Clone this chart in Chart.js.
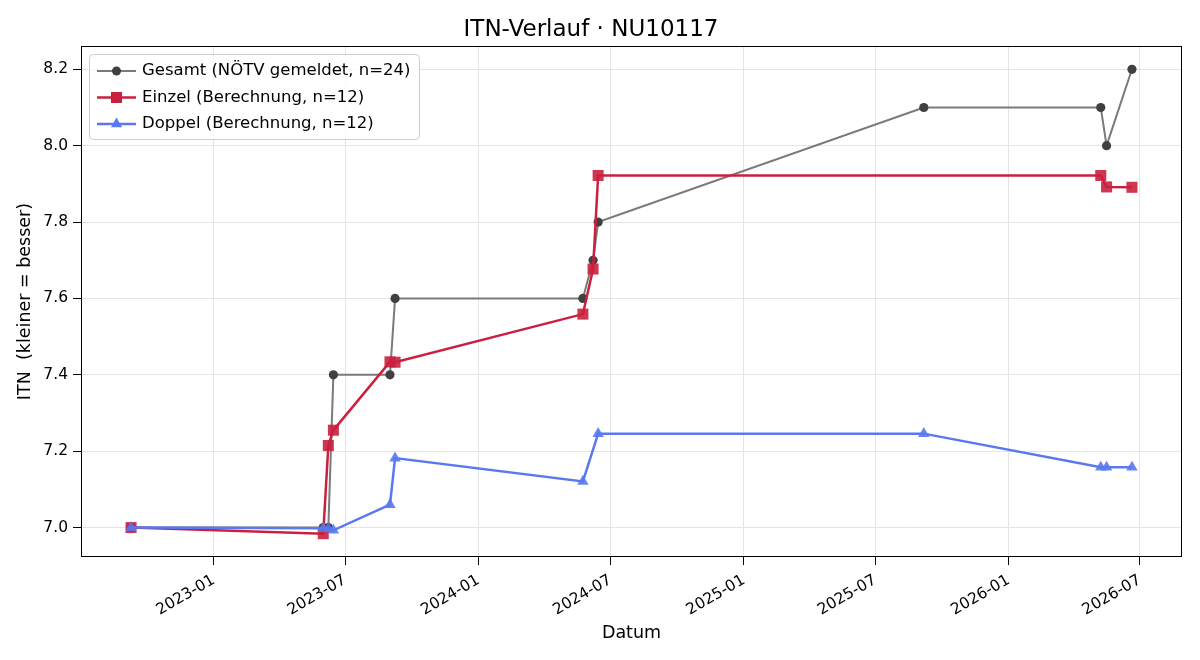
<!DOCTYPE html>
<html>
<head>
<meta charset="utf-8">
<script src="https://cdn.jsdelivr.net/npm/chart.js@4.4.1/dist/chart.umd.min.js"></script>
<style>
  html, body { margin: 0; padding: 0; background: #fff; }
  #wrap { width: 1200px; height: 660px; }
</style>
</head>
<body>
<div id="wrap"><canvas id="itnChart" width="1200" height="660"></canvas></div>
<script>
// Gesamt = ITN as reported by the NÖTV, one point per match date
const gesamtDates = ['2022-09-09', '2023-06-01', '2023-06-08', '2023-06-15', '2023-09-01', '2023-09-08',
  '2024-05-24', '2024-06-07', '2024-06-14', '2025-09-06', '2026-05-08', '2026-05-16', '2026-06-20'];
const gesamtValues = [7.0, 7.0, 7.0, 7.4, 7.4, 7.6, 7.6, 7.7, 7.8, 8.1, 8.1, 8.0, 8.2];

// Einzel (calculated)
const einzelDates = ['2022-09-09', '2023-06-01', '2023-06-08', '2023-06-15', '2023-09-01', '2023-09-08',
  '2024-05-24', '2024-06-07', '2024-06-14', '2026-05-08', '2026-05-16', '2026-06-20'];
const einzelValues = [7.0, 6.984, 7.215, 7.255, 7.434, 7.433, 7.559, 7.677, 7.922, 7.922, 7.892, 7.891];

// Doppel (calculated)
const doppelDates = ['2022-09-09', '2023-06-01', '2023-06-08', '2023-06-15', '2023-09-01', '2023-09-08',
  '2024-05-24', '2024-06-14', '2025-09-06', '2026-05-08', '2026-05-16', '2026-06-20'];
const doppelValues = [7.0, 6.998, 6.997, 6.993, 7.06, 7.182, 7.121, 7.246, 7.246, 7.158, 7.158, 7.158];

const xTickLabels = ['2023-01', '2023-07', '2024-01', '2024-07', '2025-01', '2025-07', '2026-01', '2026-07'];
const yTickValues = [7.0, 7.2, 7.4, 7.6, 7.8, 8.0, 8.2];

const legendLabels = ['Gesamt (NÖTV gemeldet, n=24)', 'Einzel (Berechnung, n=12)', 'Doppel (Berechnung, n=12)'];

function toTime(s) {
  const p = s.split('-').map(Number);
  return Date.UTC(p[0], p[1] - 1, p[2] || 1);
}

function toPoints(dates, values) {
  return dates.map((d, i) => ({ x: toTime(d), y: values[i] }));
}

const GREY_LINE = '#7a7a7a', GREY_DOT = '#404040';
const RED = '#c9203f';
const BLUE = '#5a78ef';

Chart.defaults.font.family = "'DejaVu Sans', 'Liberation Sans', sans-serif";
Chart.defaults.color = '#000';

// draws the box round the plot like matplotlib spines
const frameBox = {
  id: 'frameBox',
  afterDatasetsDraw(chart) {
    const a = chart.chartArea, ctx = chart.ctx;
    ctx.save();
    ctx.strokeStyle = '#000';
    ctx.lineWidth = 1;
    ctx.strokeRect(Math.round(a.left) + 0.5, Math.round(a.top) + 0.5,
      Math.round(a.right - a.left) - 1, Math.round(a.bottom - a.top) - 1);
    ctx.restore();
  }
};

function drawMarker(ctx, style, x, y, color) {
  ctx.fillStyle = color;
  ctx.beginPath();
  if (style === 'circle') {
    ctx.arc(x, y, 4.5, 0, Math.PI * 2);
  } else if (style === 'rect') {
    ctx.rect(x - 5.5, y - 5.5, 11, 11);
  } else {
    ctx.moveTo(x, y - 6.5);
    ctx.lineTo(x + 5.6, y + 3.3);
    ctx.lineTo(x - 5.6, y + 3.3);
    ctx.closePath();
  }
  ctx.fill();
}

// legend inside the plot, upper left
const innerLegend = {
  id: 'innerLegend',
  afterDraw(chart) {
    const ctx = chart.ctx;
    const a = chart.chartArea;
    const x0 = a.left + 8, y0 = a.top + 8, w = 330, h = 85;
    ctx.save();
    ctx.fillStyle = 'rgba(255,255,255,0.85)';
    ctx.strokeStyle = '#cccccc';
    ctx.lineWidth = 1;
    ctx.beginPath();
    ctx.roundRect(x0 + 0.5, y0 + 0.5, w, h, 4);
    ctx.fill();
    ctx.stroke();
    const styles = ['circle', 'rect', 'triangle'];
    const lineCols = [GREY_LINE, RED, BLUE];
    const dotCols = [GREY_DOT, RED, BLUE];
    const widths = [2, 2.5, 2.5];
    ctx.font = "16.5px 'DejaVu Sans', sans-serif";
    ctx.textBaseline = 'middle';
    for (let i = 0; i < 3; i++) {
      const yy = y0 + 17 + i * 26.5;
      ctx.strokeStyle = lineCols[i];
      ctx.lineWidth = widths[i];
      ctx.beginPath();
      ctx.moveTo(x0 + 8, yy);
      ctx.lineTo(x0 + 47, yy);
      ctx.stroke();
      drawMarker(ctx, styles[i], x0 + 27.5, yy, dotCols[i]);
      ctx.fillStyle = '#000';
      ctx.fillText(legendLabels[i], x0 + 53, yy);
    }
    ctx.restore();
  }
};

const ctx = document.getElementById('itnChart').getContext('2d');
const itnChart = new Chart(ctx, {
  type: 'line',
  data: {
    datasets: [{
      label: legendLabels[0],
      data: toPoints(gesamtDates, gesamtValues),
      borderColor: GREY_LINE,
      borderWidth: 2,
      pointStyle: 'circle',
      pointRadius: 4.6,
      pointBackgroundColor: GREY_DOT,
      pointBorderWidth: 0,
      order: 3
    }, {
      label: legendLabels[1],
      data: toPoints(einzelDates, einzelValues),
      borderColor: RED,
      borderWidth: 2.5,
      pointStyle: 'rect',
      pointRadius: 7.8,
      pointBackgroundColor: 'rgba(201,32,63,0.9)',
      pointBorderWidth: 0,
      order: 2
    }, {
      label: legendLabels[2],
      data: toPoints(doppelDates, doppelValues),
      borderColor: BLUE,
      borderWidth: 2.5,
      pointStyle: 'triangle',
      pointRadius: 6.6,
      pointBackgroundColor: 'rgba(90,120,239,0.9)',
      pointBorderWidth: 0,
      order: 1
    }]
  },
  options: {
    responsive: false,
    animation: false,
    devicePixelRatio: 1,
    layout: { padding: { left: 0, right: 18, top: 0, bottom: 0 } },
    elements: { line: { tension: 0 } },
    plugins: {
      legend: { display: false },
      tooltip: { enabled: false },
      title: {
        display: true,
        text: 'ITN-Verlauf · NU10117',
        font: { size: 23, weight: 'normal' },
        color: '#000',
        padding: { top: 16, bottom: 2.4 }
      }
    },
    scales: {
      x: {
        type: 'linear',
        min: toTime('2022-07-02'),
        max: toTime('2026-08-28'),
        afterBuildTicks: (scale) => {
          scale.ticks = xTickLabels.map(l => ({ value: toTime(l) }));
        },
        afterFit: (scale) => { scale.height = 103; },
        ticks: {
          autoSkip: false,
          minRotation: 30,
          maxRotation: 30,
          padding: 6,
          font: { size: 15.5 },
          color: '#000',
          callback: (value, index) => xTickLabels[index]
        },
        grid: { color: '#e4e4e4', lineWidth: 1, tickColor: '#000', tickLength: 8 },
        border: { display: false },
        title: {
          display: true,
          text: 'Datum',
          font: { size: 17.5 },
          color: '#000',
          padding: { top: 0, bottom: 16 }
        }
      },
      y: {
        type: 'linear',
        min: 6.923,
        max: 8.261,
        afterBuildTicks: (scale) => {
          scale.ticks = yTickValues.map(v => ({ value: v }));
        },
        afterFit: (scale) => { scale.width = 81; },
        ticks: {
          padding: 5,
          font: { size: 15.5 },
          color: '#000',
          callback: (value) => Number(value).toFixed(1)
        },
        grid: { color: '#e4e4e4', lineWidth: 1, tickColor: '#000', tickLength: 8 },
        border: { display: false },
        title: {
          display: true,
          text: 'ITN  (kleiner = besser)',
          font: { size: 17.5 },
          color: '#000',
          padding: { top: 15, bottom: 0 }
        }
      }
    }
  },
  plugins: [frameBox, innerLegend]
});
</script>
</body>
</html>
